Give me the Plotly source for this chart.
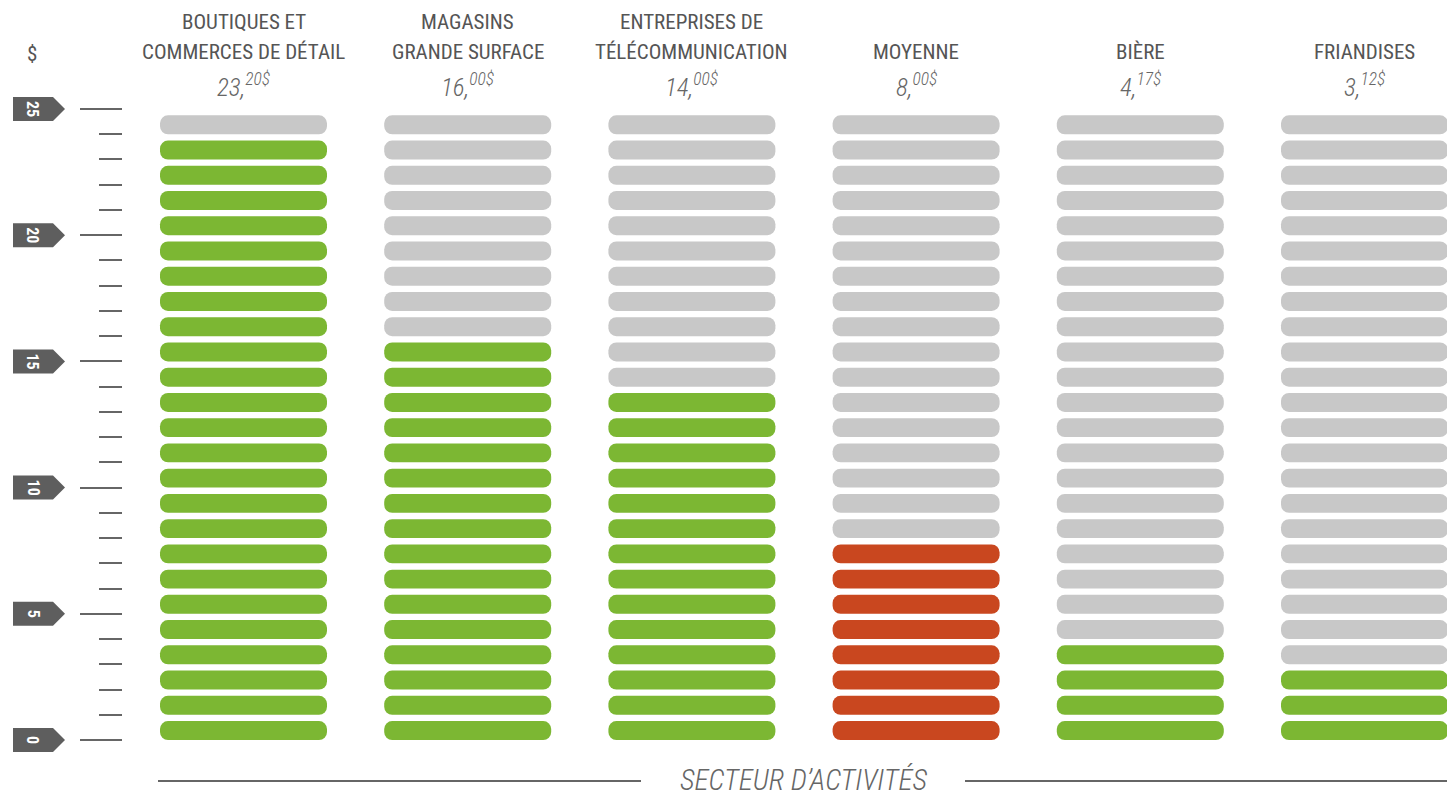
import plotly.graph_objects as go

# ---- data ----
categories = ["BOUTIQUES ET\nCOMMERCES DE DÉTAIL", "MAGASINS\nGRANDE SURFACE",
              "ENTREPRISES DE\nTÉLÉCOMMUNICATION", "MOYENNE", "BIÈRE", "FRIANDISES"]
values = [23.20, 16.00, 14.00, 8.00, 4.17, 3.12]
filled_bars = [24, 16, 14, 8, 4, 3]
highlight = [False, False, False, True, False, False]
n_levels = 25
tick_values = [0, 5, 10, 15, 20, 25]
axis_title = "SECTEUR D’ACTIVITÉS"
unit_label = "$"

# ---- style ----
W, H = 1447, 796
GREEN = "#7cb733"
RED = "#c9471f"
GRAY = "#c8c8c8"
DARK = "#5e5e5e"
TEXT = "#555555"
FONT = "Roboto Condensed, sans-serif"

col_px0, col_step = 243.5, 224.2
half_w = 83.5 / col_step
x_range = [-col_px0 / col_step, (W - col_px0) / col_step]
unit_px = 25.24
y0_px = 740
y_range = [-(H - y0_px) / unit_px, y0_px / unit_px]


def ypaper(px):
    return 1 - px / H


def xpaper(px):
    return px / W


ys, centers, colors = [], [], []
for i, (n, hl) in enumerate(zip(filled_bars, highlight)):
    for k in range(n_levels):
        ys.append(k + 0.375)
        centers.append(i)
        colors.append((RED if hl else GREEN) if k < n else GRAY)

fig = go.Figure()
fig.add_trace(go.Bar(
    orientation="h",
    y=ys,
    x=[2 * half_w] * len(ys),
    base=[c - half_w for c in centers],
    width=0.75,
    marker=dict(color=colors, cornerradius=8, line=dict(width=0)),
    hoverinfo="skip",
    showlegend=False,
))

annotations = []
shapes = []
# headers
for i, (cat, v) in enumerate(zip(categories, values)):
    lines = cat.split("\n")
    line_px = [52] if len(lines) == 1 else [22, 52]
    for t, p in zip(lines, line_px):
        annotations.append(dict(x=i, y=ypaper(p), xref="x", yref="paper", text=t,
                                showarrow=False, xanchor="center", yanchor="middle",
                                font=dict(family=FONT, size=21, color=TEXT)))
    whole, cents = f"{v:.2f}".split(".")
    annotations.append(dict(x=i, y=ypaper(86), xref="x", yref="paper",
                            text=f"<i>{whole},<sup>{cents}$</sup></i>",
                            showarrow=False, xanchor="center", yanchor="middle",
                            font=dict(family=FONT, size=25, color="#666666", weight=300)))

# $ label
annotations.append(dict(x=xpaper(32), y=ypaper(54), xref="paper", yref="paper", text=unit_label,
                        showarrow=False, xanchor="center", yanchor="middle",
                        font=dict(family=FONT, size=21, color=TEXT)))

# tick label badges
hh = 12 / unit_px
for tv in tick_values:
    shapes.append(dict(type="path", xref="paper", yref="y",
                       path=(f"M {xpaper(13)},{tv - hh} L {xpaper(53)},{tv - hh} "
                             f"L {xpaper(65)},{tv} L {xpaper(53)},{tv + hh} "
                             f"L {xpaper(13)},{tv + hh} Z"),
                       fillcolor=DARK, line=dict(width=0), layer="above"))
    annotations.append(dict(x=xpaper(33), y=tv, xref="paper", yref="y", text=f"<b>{tv}</b>",
                            textangle=90, showarrow=False, xanchor="center", yanchor="middle",
                            font=dict(family=FONT, size=16, color="white")))

# bottom axis title + rules
annotations.append(dict(x=xpaper(803), y=ypaper(780), xref="paper", yref="paper",
                        text=f"<i>{axis_title}</i>", showarrow=False,
                        xanchor="center", yanchor="middle",
                        font=dict(family=FONT, size=29, color="#666666", weight=300)))
for a, b in ((158, 641), (965, 1447)):
    shapes.append(dict(type="line", xref="paper", yref="paper", x0=xpaper(a), x1=xpaper(b),
                       y0=ypaper(781), y1=ypaper(781), line=dict(color="#666666", width=2)))

fig.update_layout(
    width=W, height=H,
    margin=dict(l=0, r=0, t=0, b=0),
    paper_bgcolor="white", plot_bgcolor="white",
    barmode="overlay",
    xaxis=dict(range=x_range, visible=False, domain=[0, 1]),
    yaxis=dict(range=y_range, anchor="free", position=xpaper(122), side="left",
               showgrid=False, zeroline=False, showline=False,
               tickmode="array", tickvals=tick_values, showticklabels=False,
               ticks="outside", ticklen=42, tickwidth=2, tickcolor="#666666",
               minor=dict(tickmode="array", tickvals=list(range(n_levels + 1)), ticks="outside",
                          ticklen=23, tickwidth=2, tickcolor="#666666", showgrid=False)),
    annotations=annotations,
    shapes=shapes,
    showlegend=False,
)

fig.write_html("out.html", config={"displayModeBar": False},
               post_script="document.body.style.margin='0';")
